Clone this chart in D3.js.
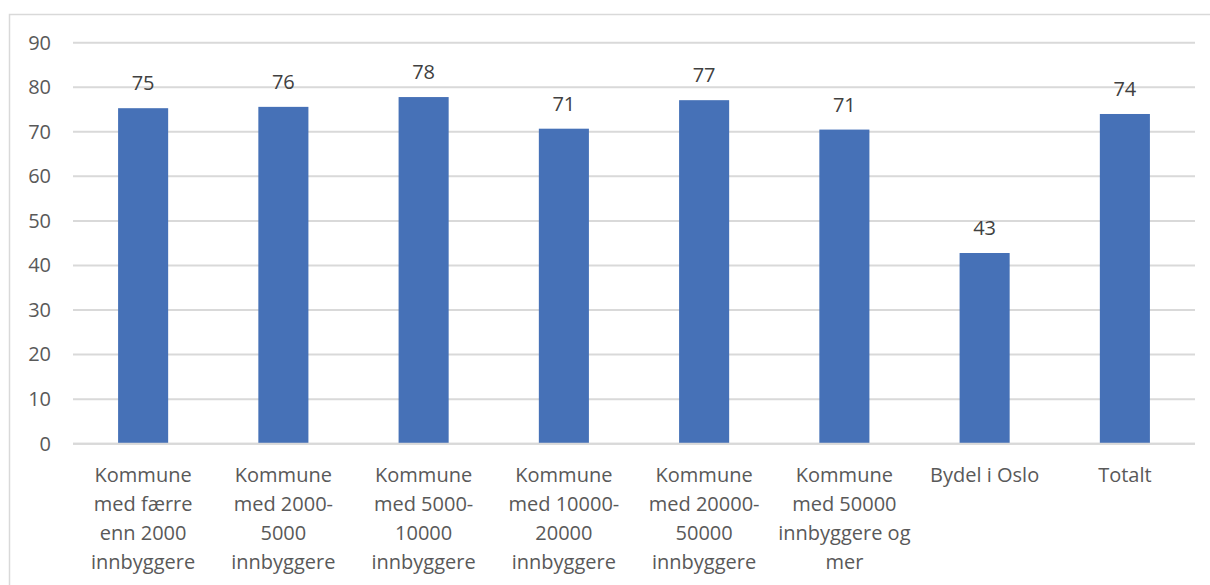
<!DOCTYPE html>
<html>
<head>
<meta charset="utf-8">
<script src="https://cdn.jsdelivr.net/npm/d3@7/dist/d3.min.js"></script>
<style>
  html, body { margin: 0; padding: 0; background: #ffffff; }
  svg { display: block; }
  text { font-family: "Open Sans", "Noto Sans", sans-serif; }
</style>
</head>
<body>
<svg id="chart" width="1210" height="585"></svg>
<script>
// Data
const categories = [
  "Kommune\nmed færre\nenn 2000\ninnbyggere",
  "Kommune\nmed 2000-\n5000\ninnbyggere",
  "Kommune\nmed 5000-\n10000\ninnbyggere",
  "Kommune\nmed 10000-\n20000\ninnbyggere",
  "Kommune\nmed 20000-\n50000\ninnbyggere",
  "Kommune\nmed 50000\ninnbyggere og\nmer",
  "Bydel i Oslo",
  "Totalt"
];
const values = [75.3, 75.6, 77.8, 70.7, 77.1, 70.5, 42.8, 74.0];
const yTicks = [0, 10, 20, 30, 40, 50, 60, 70, 80, 90];

const svg = d3.select("#chart");
const W = 1210, H = 585;
const plotLeft = 73, plotRight = 1195, plotTop = 42.7, plotBottom = 443.7;

// chart frame
svg.append("rect")
  .attr("x", 9.5).attr("y", 14.5)
  .attr("width", W + 20).attr("height", H + 20)
  .attr("fill", "#ffffff").attr("stroke", "#d9d9d9").attr("stroke-width", 1.5);

const x = d3.scaleBand().domain(d3.range(categories.length)).range([plotLeft, plotRight]).paddingInner(0.643).paddingOuter(0.3215);
const y = d3.scaleLinear().domain([0, 90]).range([plotBottom, plotTop]);

// gridlines
svg.append("g").selectAll("line").data(yTicks).join("line")
  .attr("x1", plotLeft).attr("x2", plotRight)
  .attr("y1", d => y(d)).attr("y2", d => y(d))
  .attr("stroke", "#d9d9d9").attr("stroke-width", 2);

// y axis labels
const yAxis = d3.axisLeft(y).tickValues(yTicks).tickSize(0).tickPadding(0);
const yg = svg.append("g").attr("transform", `translate(51,0)`).call(yAxis);
yg.select(".domain").remove();
yg.selectAll("text")
  .attr("fill", "#595959").attr("font-size", "20px")
  .attr("font-family", "'Open Sans', 'Noto Sans', sans-serif");

// bars
svg.append("g").selectAll("rect").data(values).join("rect")
  .attr("x", (d, i) => x(i))
  .attr("width", x.bandwidth())
  .attr("y", d => y(d))
  .attr("height", d => y(0) - y(d))
  .attr("fill", "#4671b7");

// redraw baseline over bars
svg.append("line").attr("x1", plotLeft).attr("x2", plotRight)
  .attr("y1", y(0)).attr("y2", y(0))
  .attr("stroke", "#d9d9d9").attr("stroke-width", 2);

// data labels
svg.append("g").selectAll("text").data(values).join("text")
  .attr("x", (d, i) => x(i) + x.bandwidth() / 2)
  .attr("y", d => y(d) - 18)
  .attr("text-anchor", "middle")
  .attr("fill", "#404040").attr("font-size", "20px")
  .text(d => Math.round(d));

// category labels
const cg = svg.append("g").selectAll("text").data(categories).join("text")
  .attr("text-anchor", "middle")
  .attr("fill", "#595959").attr("font-size", "20px");
cg.each(function(d, i) {
  const t = d3.select(this);
  d.split("\n").forEach((line, j) => {
    t.append("tspan")
      .attr("x", x(i) + x.bandwidth() / 2)
      .attr("y", 482 + j * 29)
      .text(line);
  });
});
</script>
</body>
</html>
